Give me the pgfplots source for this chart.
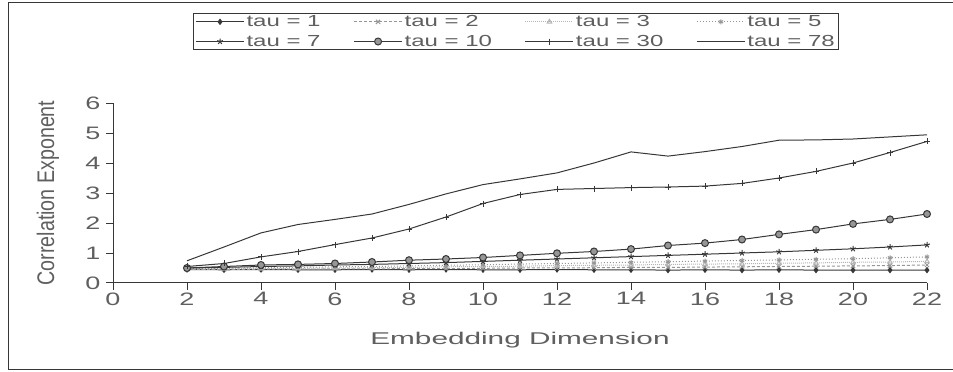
\documentclass[border=0pt]{standalone}
\usepackage{fontspec}
\setmainfont{Liberation Sans}[FakeStretch=1.5]
\newfontfamily\yfont{Liberation Sans}[FakeStretch=0.82]
\newfontfamily\xfont{Liberation Sans}[FakeStretch=1.75]
\usepackage{pgfplots}
\pgfplotsset{compat=1.18}
\definecolor{ink}{RGB}{55,55,55}
\definecolor{txt}{RGB}{95,95,95}
\definecolor{lite}{RGB}{150,150,150}
\pgfplotstableread{
x t1 t2 t3 t5 t7 t10 t30 t78
2 0.45 0.45 0.46 0.48 0.50 0.50 0.55 0.74
3 0.44 0.45 0.47 0.49 0.52 0.55 0.65 1.20
4 0.45 0.46 0.48 0.51 0.55 0.60 0.87 1.67
5 0.44 0.46 0.49 0.52 0.57 0.62 1.05 1.95
6 0.44 0.47 0.50 0.54 0.60 0.65 1.28 2.12
7 0.45 0.47 0.51 0.55 0.62 0.70 1.50 2.30
8 0.44 0.48 0.52 0.57 0.65 0.76 1.80 2.62
9 0.45 0.48 0.54 0.59 0.68 0.80 2.20 2.97
10 0.44 0.49 0.55 0.61 0.72 0.85 2.65 3.28
11 0.44 0.50 0.56 0.63 0.76 0.92 2.95 3.47
12 0.45 0.50 0.58 0.65 0.80 0.99 3.12 3.67
13 0.44 0.51 0.59 0.67 0.84 1.05 3.15 4.00
14 0.44 0.52 0.60 0.69 0.88 1.13 3.18 4.37
15 0.43 0.52 0.62 0.71 0.92 1.25 3.20 4.23
16 0.44 0.53 0.63 0.73 0.96 1.33 3.23 4.38
17 0.43 0.54 0.64 0.75 1.00 1.45 3.32 4.55
18 0.44 0.55 0.66 0.77 1.04 1.62 3.50 4.76
19 0.43 0.56 0.67 0.79 1.09 1.78 3.72 4.77
20 0.43 0.57 0.69 0.81 1.14 1.97 4.00 4.80
21 0.43 0.58 0.70 0.84 1.20 2.12 4.35 4.87
22 0.43 0.60 0.72 0.87 1.27 2.30 4.72 4.94
}\data
\begin{document}
\begin{tikzpicture}
\useasboundingbox (0pt,0pt) rectangle (953pt,372pt);
\draw[ink, line width=1pt] (953pt,369pt) -- (8pt,369pt) -- (8pt,2pt) -- (953pt,2pt);
\begin{axis}[
  at={(113pt,89pt)}, anchor=south west,
  width=814pt, height=180pt, scale only axis,
  xmin=0, xmax=22, ymin=0, ymax=6,
  axis x line=bottom, axis y line=left,
  axis line style={-, ink, line width=1pt},
  xtick={0,2,...,22}, ytick={0,1,...,6},
  tick align=outside, major tick length=7pt,
  tick style={ink, line width=1pt},
  /pgf/number format/assume math mode=true,
  ticklabel style={font=\fontsize{18}{18}\selectfont, text=txt},
  xticklabel style={yshift=1pt},
  yticklabel style={xshift=-2pt},
  xlabel={\xfont Embedding Dimension},
  xlabel style={at={(axis description cs:0.5,-0.32)}, anchor=center, font=\fontsize{17}{17}\selectfont, text=txt},
  ylabel={\yfont Correlation Exponent},
  ylabel style={at={(axis description cs:-0.080,0.5)}, anchor=center, font=\fontsize{24}{24}\selectfont, text=txt},
  legend columns=4,
  legend style={at={(axis description cs:0.0983,1.50)}, anchor=north west,
    draw=ink, line width=1pt, font=\fontsize{16}{16}\selectfont, text=txt,
    inner xsep=2pt, inner ysep=0pt, row sep=3pt},
  /tikz/every even column/.append style={column sep=31pt},
  legend cell align=left,
  legend image code/.code={\draw[mark repeat=2,mark phase=2,#1] plot coordinates {(0pt,0pt) (24pt,0pt) (48pt,0pt)};},
  every axis plot/.append style={line width=1pt},
]
\addplot[ink, mark=diamond*, mark size=2.5pt, mark options={solid, fill=ink}] table[x=x,y=t1] {\data};
\addlegendentry{tau = 1}
\addplot[lite, densely dashed, mark=x, mark size=3pt, mark options={solid}] table[x=x,y=t2] {\data};
\addlegendentry{tau = 2}
\addplot[lite!70, densely dotted, mark=triangle, mark size=2.5pt, mark options={solid}] table[x=x,y=t3] {\data};
\addlegendentry{tau = 3}
\addplot[lite, dotted, mark=asterisk, mark size=2.5pt, mark options={solid}] table[x=x,y=t5] {\data};
\addlegendentry{tau = 5}
\addplot[ink, mark=star, mark size=3pt, mark options={solid}] table[x=x,y=t7] {\data};
\addlegendentry{tau = 7}
\addplot[ink, mark=*, mark size=3.5pt, mark options={solid, fill=lite, draw=ink}] table[x=x,y=t10] {\data};
\addlegendentry{tau = 10}
\addplot[ink, mark=+, mark size=3pt, mark options={solid}] table[x=x,y=t30] {\data};
\addlegendentry{tau = 30}
\addplot[ink, no marks] table[x=x,y=t78] {\data};
\addlegendentry{tau = 78}
\end{axis}
\end{tikzpicture}
\end{document}
